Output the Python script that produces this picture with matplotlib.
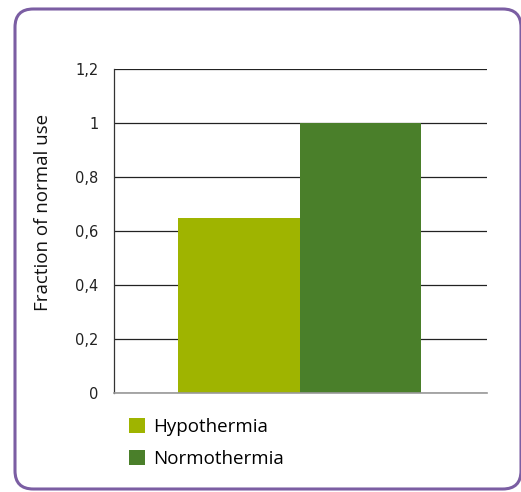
import matplotlib
matplotlib.use("Agg")
import matplotlib.pyplot as plt
from matplotlib.patches import FancyBboxPatch, Patch

categories = ["Hypothermia", "Normothermia"]
values = [0.65, 1.0]
colors = ["#9fb400", "#4a7f2a"]
yticks = [0, 0.2, 0.4, 0.6, 0.8, 1.0, 1.2]
ytick_labels = ["0", "0,2", "0,4", "0,6", "0,8", "1", "1,2"]
ylabel = "Fraction of normal use"

W, H = 521, 492
fig = plt.figure(figsize=(W / 100, H / 100), dpi=100)

# rounded purple frame
frame = FancyBboxPatch((15 / W, 1 - 489 / H), (521 - 15) / W, (489 - 9) / H,
                       boxstyle="round,pad=0,rounding_size=0.035",
                       transform=fig.transFigure, facecolor="none",
                       edgecolor="#7b5ea3", linewidth=2.2, zorder=-1,
                       mutation_aspect=W / H)
fig.patches.append(frame)

ax = fig.add_axes([114 / W, 1 - 393 / H, (487 - 114) / W, (393 - 69) / H])
ax.set_facecolor("none")
x = list(range(len(categories)))
ax.bar(x, values, width=1.0, color=colors, zorder=2)
ax.set_xlim(-1.027, 2.043)
ax.set_ylim(0, 1.2)
ax.set_yticks(yticks)
ax.set_yticklabels(ytick_labels, family="DejaVu Sans", fontsize=10.5, color="#222222")
ax.set_xticks([])
ax.tick_params(axis="y", length=0, pad=11)
ax.yaxis.grid(True, color="#222222", linewidth=0.9, zorder=1)
ax.set_axisbelow(True)
for s in ["top", "right"]:
    ax.spines[s].set_visible(False)
ax.spines["left"].set_color("#333333")
ax.spines["left"].set_linewidth(0.9)
ax.spines["bottom"].set_color("#999999")
ax.spines["bottom"].set_linewidth(1.2)
ax.set_ylabel(ylabel, family="Open Sans", fontsize=13.5, color="#111111",
              va="center", ha="center")
ax.yaxis.set_label_coords((43 - 114) / 373, (393 - 212) / 324)

handles = [Patch(facecolor=c, edgecolor="none") for c in colors]
fig.legend(handles, categories, loc="upper left", bbox_to_anchor=(129 / W, 1 - 418 / H),
           frameon=False, prop={"family": "Open Sans", "size": 13.5},
           handlelength=0.85, handleheight=0.85, handletextpad=0.45, labelspacing=0.76,
           borderpad=0, borderaxespad=0)

fig.savefig("out.png", dpi=100)
